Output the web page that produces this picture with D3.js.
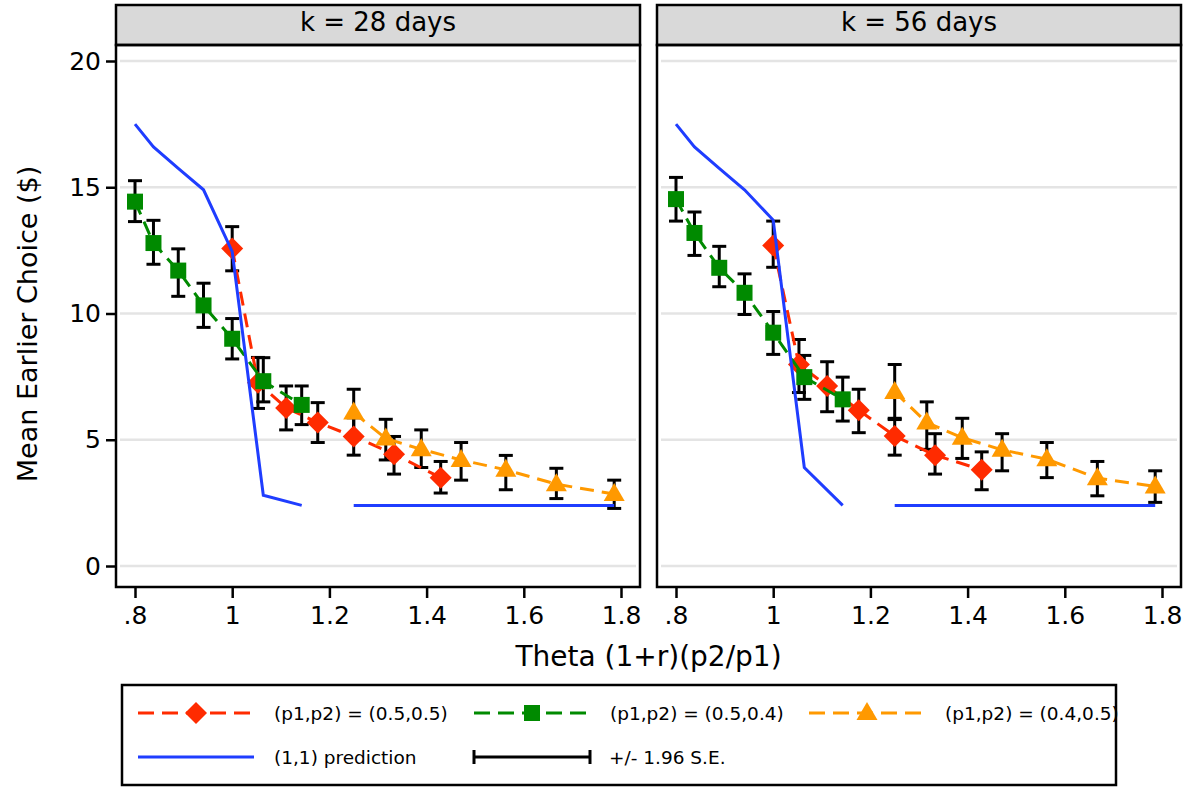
<!DOCTYPE html>
<html>
<head>
<meta charset="utf-8">
<script src="https://cdn.jsdelivr.net/npm/d3@7"></script>
<style>
  body { margin: 0; background: #fff; }
  text { font-family: "DejaVu Sans", sans-serif; fill: #000; }
</style>
</head>
<body>
<div id="chart"></div>
<script>
// theta values of each design
var thetaRed = [1.0, 1.053, 1.111, 1.176, 1.25, 1.333, 1.429];
var thetaGreen = [0.8, 0.838, 0.889, 0.941, 1.0, 1.064, 1.143];
var thetaOrange = [1.25, 1.316, 1.389, 1.471, 1.563, 1.667, 1.786];

var panelTitles = ["k = 28 days", "k = 56 days"];
var xTicks = [0.8, 1.0, 1.2, 1.4, 1.6, 1.8];
var xTickLabels = [".8", "1", "1.2", "1.4", "1.6", "1.8"];
var yTicks = [0, 5, 10, 15, 20];

// k = 28 days : means and +/- 1.96 S.E. bounds
var k28Red   = [12.57, 7.26, 6.26, 5.68, 5.13, 4.43, 3.5];
var k28RedLo = [11.69, 6.24, 5.39, 4.89, 4.39, 3.64, 2.89];
var k28RedHi = [13.44, 8.26, 7.13, 6.47, 5.87, 5.13, 4.14];
var k28Green   = [14.43, 12.79, 11.7, 10.32, 9.0, 7.32, 6.38];
var k28GreenLo = [13.64, 11.95, 10.68, 9.45, 8.2, 6.5, 5.6];
var k28GreenHi = [15.26, 13.69, 12.56, 11.2, 9.8, 8.25, 7.13];
var k28Orange   = [6.08, 5.05, 4.62, 4.2, 3.81, 3.24, 2.85];
var k28OrangeLo = [5.16, 4.2, 3.9, 3.4, 3.02, 2.67, 2.28];
var k28OrangeHi = [7.0, 5.81, 5.39, 4.89, 4.38, 3.87, 3.4];

// k = 56 days
var k56Red   = [12.69, 7.98, 7.13, 6.17, 5.15, 4.39, 3.81];
var k56RedLo = [11.83, 6.87, 6.11, 5.28, 4.39, 3.64, 3.02];
var k56RedHi = [13.66, 8.97, 8.09, 7.0, 5.85, 5.24, 4.52];
var k56Green   = [14.53, 13.19, 11.81, 10.82, 9.24, 7.48, 6.6];
var k56GreenLo = [13.66, 12.3, 11.06, 9.96, 8.38, 6.6, 5.74];
var k56GreenHi = [15.39, 14.02, 12.66, 11.57, 10.08, 8.34, 7.48];
var k56Orange   = [6.89, 5.68, 5.08, 4.6, 4.23, 3.48, 3.15];
var k56OrangeLo = [5.8, 4.62, 4.26, 3.77, 3.5, 2.78, 2.52];
var k56OrangeHi = [7.98, 6.5, 5.85, 5.24, 4.89, 4.14, 3.77];

// (1,1) prediction, along the green thetas and along the orange thetas
var k28PredLow  = [17.5, 16.6, 15.75, 14.9, 12.45, 2.8, 2.4];
var k28PredHigh = [2.4, 2.4, 2.4, 2.4, 2.4, 2.4, 2.4];
var k56PredLow  = [17.5, 16.6, 15.75, 14.9, 13.7, 3.9, 2.4];
var k56PredHigh = [2.4, 2.4, 2.4, 2.4, 2.4, 2.4, 2.4];

var seriesLabels = ["(p1,p2) = (0.5,0.5)", "(p1,p2) = (0.5,0.4)", "(p1,p2) = (0.4,0.5)"];
var predLabel = "(1,1) prediction";
var ciLabel = "+/- 1.96 S.E.";

var colors = { red: "#ff2b00", green: "#008a00", orange: "#ff9900", blue: "#1f3dff" };

function zipSeries(theta, mean, lo, hi) {
  return theta.map(function(t, i) { return { t: t, v: mean[i], lo: lo[i], hi: hi[i] }; });
}
function zipLine(theta, vals) {
  return theta.map(function(t, i) { return { t: t, v: vals[i] }; });
}

var panels = [
  {
    title: panelTitles[0],
    series: [
      { key: "red", data: zipSeries(thetaRed, k28Red, k28RedLo, k28RedHi) },
      { key: "green", data: zipSeries(thetaGreen, k28Green, k28GreenLo, k28GreenHi) },
      { key: "orange", data: zipSeries(thetaOrange, k28Orange, k28OrangeLo, k28OrangeHi) }
    ],
    pred: [zipLine(thetaGreen, k28PredLow), zipLine(thetaOrange, k28PredHigh)]
  },
  {
    title: panelTitles[1],
    series: [
      { key: "red", data: zipSeries(thetaRed, k56Red, k56RedLo, k56RedHi) },
      { key: "green", data: zipSeries(thetaGreen, k56Green, k56GreenLo, k56GreenHi) },
      { key: "orange", data: zipSeries(thetaOrange, k56Orange, k56OrangeLo, k56OrangeHi) }
    ],
    pred: [zipLine(thetaGreen, k56PredLow), zipLine(thetaOrange, k56PredHigh)]
  }
];

// marker shapes
var markerPath = {
  red: "M0,-11L11,0L0,11L-11,0Z",
  green: "M-8,-8L8,-8L8,8L-8,8Z",
  orange: "M0,-11L10.5,7L-10.5,7Z"
};

var W = 1195, H = 788;
var panelX = [116, 657], panelW = 524;
var stripTop = 5, plotTop = 45, plotBottom = 587;

var svg = d3.select("#chart")
  .append("svg")
    .attr("width", W)
    .attr("height", H);

var y = d3.scaleLinear().domain([0, 20]).range([566, 61]);

panels.forEach(function(p, pi) {
  var x0 = panelX[pi];
  var x = d3.scaleLinear().domain([0.8, 1.8]).range([x0 + 19, x0 + 505]);
  var g = svg.append("g");

  // strip
  g.append("rect")
    .attr("x", x0).attr("y", stripTop)
    .attr("width", panelW).attr("height", plotTop - stripTop)
    .attr("fill", "#d9d9d9").attr("stroke", "#000").attr("stroke-width", 2.5);
  g.append("text")
    .attr("x", x0 + panelW / 2).attr("y", 31)
    .attr("text-anchor", "middle")
    .style("font-size", "26px")
    .text(p.title);

  // grid lines
  g.selectAll(".grid")
    .data(yTicks)
    .enter().append("line")
      .attr("x1", x0 + 4).attr("x2", x0 + panelW - 4)
      .attr("y1", function(d) { return y(d); })
      .attr("y2", function(d) { return y(d); })
      .attr("stroke", "#e4e4e4").attr("stroke-width", 2.5);

  // error bars
  p.series.forEach(function(s) {
    var eb = g.append("g").selectAll("g")
      .data(s.data)
      .enter().append("g");
    eb.append("line")
      .attr("x1", function(d) { return x(d.t); }).attr("x2", function(d) { return x(d.t); })
      .attr("y1", function(d) { return y(d.lo); }).attr("y2", function(d) { return y(d.hi); })
      .attr("stroke", "#000").attr("stroke-width", 3);
    ["lo", "hi"].forEach(function(k) {
      eb.append("line")
        .attr("x1", function(d) { return x(d.t) - 7; }).attr("x2", function(d) { return x(d.t) + 7; })
        .attr("y1", function(d) { return y(d[k]); }).attr("y2", function(d) { return y(d[k]); })
        .attr("stroke", "#000").attr("stroke-width", 3);
    });
  });

  // dashed series lines with markers
  var line = d3.line()
    .x(function(d) { return x(d.t); })
    .y(function(d) { return y(d.v); });

  p.series.forEach(function(s) {
    g.append("path")
      .datum(s.data)
      .attr("d", line)
      .attr("fill", "none")
      .attr("stroke", colors[s.key])
      .attr("stroke-width", 3)
      .attr("stroke-dasharray", "14,8");
    g.selectAll(".m-" + s.key)
      .data(s.data)
      .enter().append("path")
        .attr("d", markerPath[s.key])
        .attr("transform", function(d) { return "translate(" + x(d.t) + "," + y(d.v) + ")"; })
        .attr("fill", colors[s.key]);
  });

  // (1,1) prediction
  p.pred.forEach(function(seg) {
    g.append("path")
      .datum(seg)
      .attr("d", line)
      .attr("fill", "none")
      .attr("stroke", colors.blue)
      .attr("stroke-width", 3);
  });

  // frame
  g.append("rect")
    .attr("x", x0).attr("y", plotTop)
    .attr("width", panelW).attr("height", plotBottom - plotTop)
    .attr("fill", "none").attr("stroke", "#000").attr("stroke-width", 2.5);

  // x axis
  var xAxis = g.append("g")
    .attr("transform", "translate(0," + plotBottom + ")")
    .call(d3.axisBottom(x)
      .tickValues(xTicks)
      .tickFormat(function(d, i) { return xTickLabels[i]; })
      .tickSize(11)
      .tickSizeOuter(0)
      .tickPadding(8));
  xAxis.select(".domain").remove();
  xAxis.selectAll("line").attr("stroke-width", 2.5);
  xAxis.selectAll("text")
    .style("font-size", "25px")
    .style("font-family", "DejaVu Sans, sans-serif");

  // y axis (left panel only)
  if (pi === 0) {
    var yAxis = g.append("g")
      .attr("transform", "translate(" + x0 + ",0)")
      .call(d3.axisLeft(y)
        .tickValues(yTicks)
        .tickSize(10)
        .tickSizeOuter(0)
        .tickPadding(5));
    yAxis.select(".domain").remove();
    yAxis.selectAll("line").attr("stroke-width", 2.5);
    yAxis.selectAll("text")
      .style("font-size", "25px")
      .style("font-family", "DejaVu Sans, sans-serif");
  }
});

// axis titles
svg.append("text")
  .attr("x", (panelX[0] + panelX[1] + panelW) / 2)
  .attr("y", 666)
  .attr("text-anchor", "middle")
  .style("font-size", "28px")
  .text("Theta (1+r)(p2/p1)");

svg.append("text")
  .attr("transform", "translate(37," + ((plotTop + plotBottom) / 2 + 8) + ") rotate(-90)")
  .attr("text-anchor", "middle")
  .style("font-size", "27px")
  .text("Mean Earlier Choice ($)");

// legend
var lg = svg.append("g");
lg.append("rect")
  .attr("x", 122).attr("y", 685)
  .attr("width", 994).attr("height", 100)
  .attr("fill", "#fff").attr("stroke", "#000").attr("stroke-width", 2.5);

var legendItems = [
  { key: "red", x: 138, text: seriesLabels[0] },
  { key: "green", x: 474, text: seriesLabels[1] },
  { key: "orange", x: 809, text: seriesLabels[2] }
];
legendItems.forEach(function(d) {
  lg.append("line")
    .attr("x1", d.x).attr("x2", d.x + 116)
    .attr("y1", 713).attr("y2", 713)
    .attr("stroke", colors[d.key]).attr("stroke-width", 3)
    .attr("stroke-dasharray", "16,8");
  lg.append("path")
    .attr("d", markerPath[d.key])
    .attr("transform", "translate(" + (d.x + 58) + ",713)")
    .attr("fill", colors[d.key]);
  lg.append("text")
    .attr("x", d.x + 136).attr("y", 720)
    .style("font-size", "18.5px")
    .text(d.text);
});

lg.append("line")
  .attr("x1", 138).attr("x2", 254)
  .attr("y1", 757).attr("y2", 757)
  .attr("stroke", colors.blue).attr("stroke-width", 3);
lg.append("text")
  .attr("x", 274).attr("y", 764)
  .style("font-size", "18.5px")
  .text(predLabel);

lg.append("line")
  .attr("x1", 474).attr("x2", 590)
  .attr("y1", 757).attr("y2", 757)
  .attr("stroke", "#000").attr("stroke-width", 3);
[474, 590].forEach(function(xx) {
  lg.append("line")
    .attr("x1", xx).attr("x2", xx)
    .attr("y1", 750).attr("y2", 764)
    .attr("stroke", "#000").attr("stroke-width", 3);
});
lg.append("text")
  .attr("x", 609).attr("y", 764)
  .style("font-size", "18.5px")
  .text(ciLabel);
</script>
</body>
</html>
